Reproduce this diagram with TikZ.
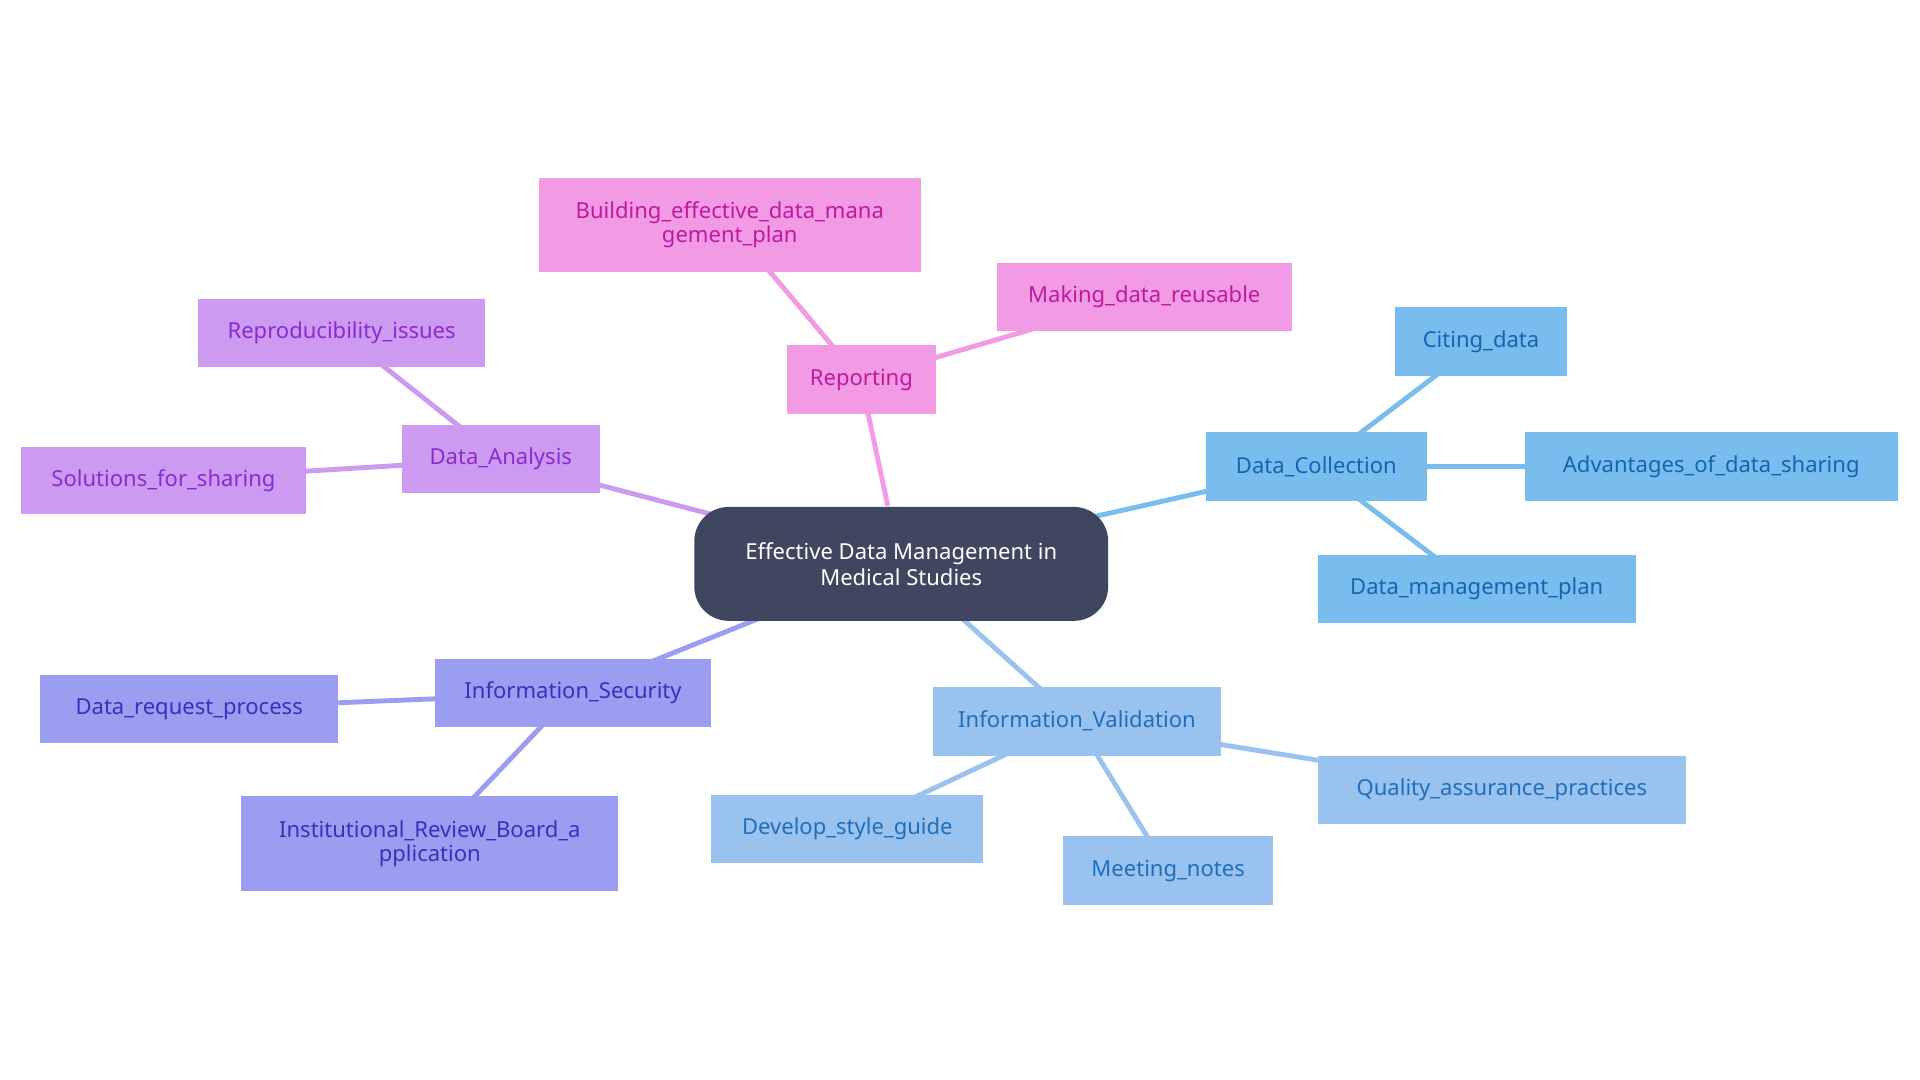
\documentclass[tikz,border=0pt]{standalone}
\usepackage{fontspec}
\setmainfont{Noto Sans}
\definecolor{cen}{HTML}{404560}
\definecolor{pkF}{HTML}{F29AE4}\definecolor{pkT}{HTML}{C0199F}\definecolor{pkB}{HTML}{2ECC40}
\definecolor{puF}{HTML}{CC9AF0}\definecolor{puT}{HTML}{8A2BD2}\definecolor{puB}{HTML}{6FCF25}
\definecolor{inF}{HTML}{9B9EF0}\definecolor{inT}{HTML}{3A2FC0}\definecolor{inB}{HTML}{D4C22A}
\definecolor{lbF}{HTML}{99C2EE}\definecolor{lbT}{HTML}{1F6FBF}\definecolor{orB}{HTML}{D97B28}
\definecolor{blF}{HTML}{78BDEE}\definecolor{blT}{HTML}{1565B0}
\tikzset{
 bx/.style n args={3}{draw=none,fill=#1,text=#2,font=\fontsize{18}{20}\selectfont,align=center,inner sep=0pt,
   append after command={\pgfextra{\let\tmpn\tikzlastnode}
   [draw=#3,line width=4pt] (\tikzlastnode.south west) -- (\tikzlastnode.south east)}},
 ed/.style={line width=4pt,draw=#1}
}
\newcommand{\bnode}[9]{\node[bx={#7}{#8}{#9},minimum width=#4pt-#2pt,minimum height=#5pt-#3pt] (#1) at ({(#2+#4)/2},{(#3+#5)/2}) {#6};}
\begin{document}
\begin{tikzpicture}[x=1pt,y=-1pt]
\useasboundingbox[fill=white] (0,0) rectangle (1568,882);
\coordinate (c) at (736,460);
% edges
\draw[ed=pkF] (725,413) -- (703,310);
\draw[ed=pkF] (703,310) -- (596,183);
\draw[ed=pkF] (703,310) -- (934,242);
\draw[ed=puF] (600,425) -- (409,375);
\draw[ed=puF] (409,375) -- (279,272);
\draw[ed=puF] (409,375) -- (133,392);
\draw[ed=inF] (620,505) -- (468,566);
\draw[ed=inF] (468,566) -- (154,579);
\draw[ed=inF] (468,566) -- (351,689);
\draw[ed=lbF] (780,500) -- (879,589);
\draw[ed=lbF] (879,589) -- (692,677);
\draw[ed=lbF] (879,589) -- (954,711);
\draw[ed=lbF] (879,589) -- (1226,645);
\draw[ed=blF] (880,425) -- (1075,381);
\draw[ed=blF] (1075,381) -- (1209,279);
\draw[ed=blF] (1075,381) -- (1397,381);
\draw[ed=blF] (1075,381) -- (1206,481);
% center
\node[fill=cen,text=white,rounded corners=28pt,minimum width=338pt,minimum height=93pt,align=center,
 font=\fontsize{18}{21}\selectfont] (ctr) at (736,460.5) {Effective Data Management in\\Medical Studies};
% nodes
\bnode{rep}{643}{282}{764}{338}{Reporting}{pkF}{pkT}{pkB}
\bnode{bui}{440}{145}{752}{222}{Building\_effective\_data\_mana\\gement\_plan}{pkF}{pkT}{pkB}
\bnode{mak}{814}{215}{1055}{270}{Making\_data\_reusable}{pkF}{pkT}{pkB}
\bnode{ana}{328}{347}{490}{403}{Data\_Analysis}{puF}{puT}{puB}
\bnode{rpr}{162}{244}{396}{300}{Reproducibility\_issues}{puF}{puT}{puB}
\bnode{sol}{17}{365}{250}{420}{Solutions\_for\_sharing}{puF}{puT}{puB}
\bnode{sec}{355}{538}{581}{594}{Information\_Security}{inF}{inT}{inB}
\bnode{drq}{33}{551}{276}{607}{Data\_request\_process}{inF}{inT}{inB}
\bnode{irb}{197}{650}{505}{728}{Institutional\_Review\_Board\_a\\pplication}{inF}{inT}{inB}
\bnode{val}{762}{561}{997}{617}{Information\_Validation}{lbF}{lbT}{orB}
\bnode{dsg}{581}{649}{803}{705}{Develop\_style\_guide}{lbF}{lbT}{orB}
\bnode{mtg}{868}{683}{1040}{739}{Meeting\_notes}{lbF}{lbT}{orB}
\bnode{qap}{1076}{617}{1377}{673}{Quality\_assurance\_practices}{lbF}{lbT}{orB}
\bnode{col}{985}{353}{1165}{409}{Data\_Collection}{blF}{blT}{orB}
\bnode{cit}{1139}{251}{1280}{307}{Citing\_data}{blF}{blT}{orB}
\bnode{adv}{1245}{353}{1550}{409}{Advantages\_of\_data\_sharing}{blF}{blT}{orB}
\bnode{dmp}{1076}{453}{1336}{509}{Data\_management\_plan}{blF}{blT}{orB}
\end{tikzpicture}
\end{document}
